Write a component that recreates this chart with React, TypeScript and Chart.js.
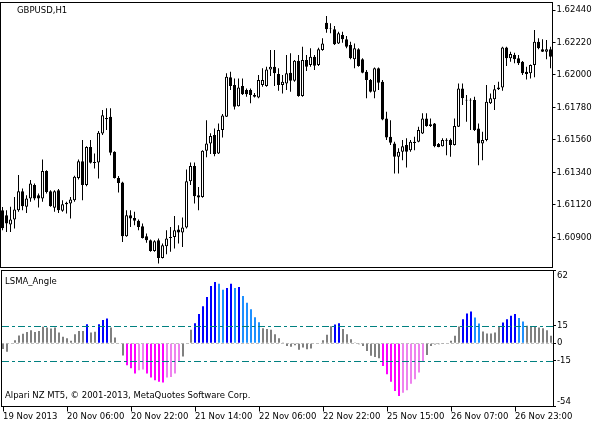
import React, { useEffect, useRef } from 'react';
import { Chart, registerables } from 'chart.js';

Chart.register(...registerables);

const FONT_FAMILY = '"DejaVu Sans", "Liberation Sans", sans-serif';

// GBPUSD H1 candles (oldest first)
const OPEN = [
  1.61084, 1.6105, 1.60987, 1.61021, 1.61084, 1.61213, 1.61107, 1.61164, 1.61254, 1.61186,
  1.61164, 1.61349, 1.61213, 1.611, 1.6122, 1.6108, 1.61125, 1.6113, 1.61152, 1.61303,
  1.61416, 1.61254, 1.61513, 1.6141, 1.61408, 1.61604, 1.61701, 1.61717, 1.6148, 1.61303,
  1.61272, 1.60908, 1.6105, 1.61032, 1.61012, 1.60976, 1.60908, 1.60881, 1.60808, 1.60881,
  1.60761, 1.6084, 1.60896, 1.60903, 1.60953, 1.60933, 1.60967, 1.61281, 1.61383, 1.61186,
  1.61174, 1.61486, 1.61536, 1.61593, 1.61469, 1.61627, 1.61717, 1.61984, 1.61932, 1.61789,
  1.61925, 1.61898, 1.61898, 1.61864, 1.61848, 1.61932, 1.61925, 1.62038, 1.62056, 1.62006,
  1.61932, 1.61943, 1.62015, 1.61961, 1.62097, 1.61857, 1.62101, 1.62067, 1.62124, 1.62067,
  1.62169, 1.62354, 1.62315, 1.62309, 1.62214, 1.62271, 1.62242, 1.62203, 1.62106, 1.62174,
  1.62106, 1.62022, 1.61966, 1.61886, 1.62045, 1.61954, 1.61706, 1.61581, 1.61536, 1.61446,
  1.6148, 1.61525, 1.61491, 1.61547, 1.61547, 1.61604, 1.61706, 1.61667, 1.61672, 1.61532,
  1.61518, 1.61555, 1.61559, 1.61525, 1.61649, 1.61909, 1.61827, 1.61833, 1.6183, 1.61638,
  1.61536, 1.61559, 1.61808, 1.61835, 1.61903, 1.61916, 1.62187, 1.62113, 1.62135, 1.62113,
  1.6209, 1.62022, 1.62011, 1.62067, 1.62225, 1.62174, 1.62158, 1.62174,
];
const HIGH = [
  1.61105, 1.61084, 1.61107, 1.61174, 1.61322, 1.61231, 1.61186, 1.61288, 1.61265, 1.61197,
  1.61428, 1.61355, 1.6122, 1.6122, 1.61227, 1.61152, 1.61141, 1.61174, 1.61317, 1.61428,
  1.61559, 1.61518, 1.61559, 1.61469, 1.6162, 1.61762, 1.61774, 1.61774, 1.61484, 1.61315,
  1.61276, 1.61084, 1.61084, 1.61073, 1.61021, 1.60994, 1.60926, 1.60886, 1.60881, 1.60892,
  1.60858, 1.60949, 1.60971, 1.61044, 1.60983, 1.61035, 1.6136, 1.61408, 1.61408, 1.61242,
  1.61491, 1.61694, 1.61606, 1.61638, 1.61672, 1.61735, 1.62011, 1.62022, 1.61977, 1.61977,
  1.61977, 1.61909, 1.61909, 1.61878, 1.62, 1.62045, 1.62056, 1.62169, 1.62169, 1.62045,
  1.62, 1.62135, 1.62147, 1.62101, 1.62135, 1.62191, 1.62135, 1.62181, 1.62135, 1.62185,
  1.62248, 1.624, 1.6235, 1.62332, 1.62293, 1.62293, 1.62264, 1.62225, 1.62214, 1.62181,
  1.62113, 1.62033, 1.61972, 1.6205, 1.6205, 1.61966, 1.61751, 1.61694, 1.61547, 1.61503,
  1.61559, 1.61572, 1.61559, 1.61581, 1.61649, 1.6174, 1.6174, 1.61706, 1.61674, 1.61539,
  1.61572, 1.61572, 1.6157, 1.61706, 1.61943, 1.61943, 1.61864, 1.61842, 1.61852, 1.61672,
  1.61615, 1.61932, 1.61875, 1.61932, 1.61954, 1.62191, 1.62191, 1.62158, 1.62151, 1.62135,
  1.62094, 1.62056, 1.62071, 1.62305, 1.62248, 1.62242, 1.62237, 1.62191,
];
const LOW = [
  1.60949, 1.60937, 1.60937, 1.6096, 1.61073, 1.61084, 1.61066, 1.61141, 1.61152, 1.61103,
  1.61141, 1.61197, 1.61107, 1.61073, 1.61066, 1.61073, 1.61062, 1.61028, 1.61141, 1.61292,
  1.61152, 1.61247, 1.61401, 1.61367, 1.61299, 1.61593, 1.61627, 1.61457, 1.61299, 1.61204,
  1.60869, 1.60905, 1.60971, 1.60983, 1.60949, 1.60892, 1.60863, 1.60803, 1.60803, 1.60723,
  1.60757, 1.60786, 1.60802, 1.60825, 1.60858, 1.60835, 1.6096, 1.61254, 1.6113, 1.61084,
  1.61168, 1.61442, 1.61464, 1.6145, 1.61464, 1.61577, 1.61715, 1.61898, 1.61767, 1.61786,
  1.61864, 1.61852, 1.61808, 1.61847, 1.61842, 1.6192, 1.6192, 1.61993, 1.61925, 1.61893,
  1.61875, 1.61898, 1.61886, 1.61954, 1.61852, 1.61852, 1.62027, 1.62056, 1.62033, 1.62061,
  1.62164, 1.62286, 1.62282, 1.62203, 1.6221, 1.62219, 1.62181, 1.62106, 1.62045, 1.62056,
  1.62011, 1.61842, 1.61881, 1.61842, 1.61898, 1.61694, 1.61559, 1.61525, 1.61333, 1.61333,
  1.61423, 1.61374, 1.6148, 1.61491, 1.61545, 1.616, 1.61649, 1.61647, 1.61511, 1.61511,
  1.61515, 1.61457, 1.61446, 1.61522, 1.61647, 1.61796, 1.61683, 1.61627, 1.6162, 1.61389,
  1.61423, 1.61552, 1.61803, 1.61762, 1.61898, 1.61893, 1.62061, 1.6209, 1.62079, 1.62067,
  1.62, 1.6197, 1.61977, 1.61984, 1.62174, 1.62155, 1.62106, 1.62045,
];
const CLOSE = [
  1.60962, 1.60994, 1.61021, 1.61089, 1.61213, 1.61111, 1.61164, 1.61265, 1.61164, 1.61164,
  1.61349, 1.61208, 1.61111, 1.61213, 1.61084, 1.61125, 1.61134, 1.61157, 1.6131, 1.61416,
  1.61254, 1.61513, 1.61405, 1.61403, 1.61608, 1.61728, 1.61708, 1.61473, 1.61303, 1.61269,
  1.60908, 1.6105, 1.61028, 1.61012, 1.60971, 1.60896, 1.60881, 1.60808, 1.60874, 1.60761,
  1.60847, 1.60892, 1.60903, 1.60949, 1.60933, 1.60967, 1.61281, 1.61383, 1.61179, 1.6117,
  1.61486, 1.61536, 1.61586, 1.61464, 1.61627, 1.61725, 1.61988, 1.61925, 1.61785, 1.61916,
  1.61869, 1.61869, 1.61864, 1.61852, 1.61966, 1.61966, 1.62038, 1.62056, 1.62011, 1.61932,
  1.61954, 1.62011, 1.61961, 1.62097, 1.61857, 1.62101, 1.62056, 1.62124, 1.62063, 1.62174,
  1.62214, 1.62309, 1.62318, 1.62208, 1.62282, 1.62242, 1.62191, 1.62113, 1.62181, 1.62061,
  1.62015, 1.61966, 1.61886, 1.62045, 1.61947, 1.61699, 1.61577, 1.61541, 1.61446, 1.6148,
  1.61518, 1.6148, 1.61547, 1.61539, 1.61627, 1.61706, 1.61654, 1.61654, 1.61518, 1.61513,
  1.61559, 1.61562, 1.61525, 1.61654, 1.61909, 1.61842, 1.61833, 1.61827, 1.61627, 1.61536,
  1.61559, 1.61819, 1.61842, 1.61903, 1.61916, 1.62187, 1.62113, 1.62142, 1.62106, 1.62079,
  1.62011, 1.62006, 1.62067, 1.62225, 1.62181, 1.62158, 1.62174, 1.62124,
];

// LSMA_Angle indicator histogram
const LSMA_ANGLE = [
  -5, -7.4, 0.3, 2.5, 6.6, 8, 9.5, 11, 9.5, 10.5,
  14, 13.4, 12.5, 13.4, 9.1, 5.4, 4.3, 2, 7.7, 10.5,
  10.5, 16.2, 9.1, 9.7, 16.2, 19.7, 21.1, 13.4, 4.8, 0.4,
  -10.5, -18.8, -21.4, -25.9, -23.1, -22.5, -25.9, -29.3, -31.6, -32.8,
  -33.5, -29.3, -28.8, -25.9, -15.3, -11.4, 0.3, 11.4, 17.1, 25,
  31.6, 39.3, 48.7, 52.1, 50.7, 45.6, 47, 50.7, 47, 47.9,
  40.2, 34.5, 29, 22.2, 17.9, 12.8, 12, 11.4, 7.7, 4.3,
  0.5, -2.3, -3.1, -1.7, -5.7, -3.7, -5.1, -4.6, -0.5, 0.3,
  2.6, 7.1, 14.5, 16, 17.1, 12, 7.7, 3.4, 0.6, -0.9,
  -2.3, -6.6, -10.8, -11.7, -12.8, -19.4, -26.5, -32.8, -40.7, -45,
  -42.2, -40.2, -34.5, -30.8, -25.1, -15.7, -10, -2.3, -1.1, -0.9,
  -0.3, 0.3, 2, 6.3, 14.2, 20.5, 25.4, 27.1, 21.9, 16.8,
  10, 8.3, 8.3, 9.1, 14, 17.7, 20.5, 23.4, 24.8, 21.4,
  18.5, 14.8, 14.2, 14.2, 13.4, 12.8, 11.1, 6.3,
];
// g = gray, b = blue (rising), d = dodger blue (falling), m = magenta (falling), v = violet (rising)
const ANGLE_COLOR_CODES =
  'gggggggggg' + 'gggggggggg' + 'gbggbbbggg' + 'gmmmvvmmmm' + 'mvvvvgggbb' +
  'bbbbddbbdb' + 'dddddggggg' + 'gggggggggg' + 'gggbbggggg' + 'gggggmmmmm' +
  'vvvvvvgggg' + 'gggggbbbdd' + 'gggggbbbbd' + 'dggggggg';
const CODE_COLORS: Record<string, string> = {
  g: '#808080', b: '#0000FF', d: '#1E90FF', m: '#FF00FF', v: '#EE82EE',
};

const PRICE_TICKS = [1.6244, 1.6222, 1.62, 1.6178, 1.6156, 1.6134, 1.6112, 1.609];
const PRICE_MIN = 1.60696;
const PRICE_MAX = 1.62491;
const ANGLE_TICKS = [62, 15, 0, -15, -54];
const ANGLE_MIN = -54;
const ANGLE_MAX = 62;
const LEVELS = [15, -15];
const X_TICK_LABELS = [
  '19 Nov 2013', '20 Nov 06:00', '20 Nov 22:00', '21 Nov 14:00', '22 Nov 06:00',
  '22 Nov 22:00', '25 Nov 15:00', '26 Nov 07:00', '26 Nov 23:00',
];
const TICK_EVERY = 16;

const framePlugin = {
  id: 'frame',
  afterDraw(chart: any) {
    const { ctx, chartArea: a } = chart;
    ctx.save();
    ctx.strokeStyle = '#000';
    ctx.lineWidth = 1;
    ctx.setLineDash([]);
    ctx.strokeRect(
      Math.floor(a.left) + 0.5,
      Math.floor(a.top) + 0.5,
      Math.round(a.right - a.left),
      Math.round(a.bottom - a.top)
    );
    ctx.restore();
  },
};

const levelsPlugin = {
  id: 'levels',
  beforeDatasetsDraw(chart: any) {
    const { ctx, chartArea: a, scales } = chart;
    const y = Math.round(scales.y.getPixelForValue(0)) + 0.5;
    ctx.save();
    ctx.strokeStyle = '#C0C0C0';
    ctx.lineWidth = 1;
    ctx.setLineDash([3, 2]);
    ctx.beginPath();
    ctx.moveTo(a.left, y);
    ctx.lineTo(a.right, y);
    ctx.stroke();
    ctx.restore();
  },
  afterDatasetsDraw(chart: any) {
    const { ctx, chartArea: a, scales } = chart;
    ctx.save();
    ctx.strokeStyle = '#008080';
    ctx.lineWidth = 1;
    ctx.setLineDash([7, 3, 3, 3]);
    LEVELS.forEach((lv) => {
      const y = Math.round(scales.y.getPixelForValue(lv)) + 0.5;
      ctx.beginPath();
      ctx.moveTo(a.left + 1, y);
      ctx.lineTo(a.right, y);
      ctx.stroke();
    });
    ctx.restore();
  },
};

const tickFont = { family: FONT_FAMILY, size: 8.5 };

export default function App() {
  const mainRef = useRef<HTMLCanvasElement>(null);
  const subRef = useRef<HTMLCanvasElement>(null);

  useEffect(() => {
    const labels = OPEN.map((_, i) => i);
    const bodies = OPEN.map((o, i) => [Math.min(o, CLOSE[i]), Math.max(o, CLOSE[i])]);
    const wicks = LOW.map((l, i) => [l, HIGH[i]]);
    const bodyFill = OPEN.map((o, i) => (CLOSE[i] >= o ? '#FFFFFF' : '#000000'));

    const main = new Chart(mainRef.current as HTMLCanvasElement, {
      type: 'bar',
      data: {
        labels,
        datasets: [
          {
            data: bodies as any,
            backgroundColor: bodyFill,
            borderColor: '#000000',
            borderWidth: 1,
            borderSkipped: false,
            barThickness: 3,
            inflateAmount: 0,
            grouped: false,
          } as any,
          {
            data: wicks as any,
            backgroundColor: '#000000',
            borderWidth: 0,
            barThickness: 1,
            inflateAmount: 0,
            grouped: false,
          } as any,
        ],
      },
      options: {
        animation: false,
        responsive: false,
        events: [],
        layout: { padding: { left: 0.5, top: 2.5, bottom: 2.5, right: 0 } },
        plugins: { legend: { display: false }, tooltip: { enabled: false } },
        scales: {
          x: { display: false, offset: true },
          y: {
            position: 'right',
            min: PRICE_MIN,
            max: PRICE_MAX,
            afterBuildTicks: (s: any) => {
              s.ticks = PRICE_TICKS.map((v) => ({ value: v }));
            },
            afterFit: (s: any) => {
              s.width = 48.5;
              s.paddingTop = 0;
              s.paddingBottom = 0;
            },
            ticks: {
              font: tickFont,
              color: '#000',
              padding: 1,
              callback: (v: any) => Number(v).toFixed(5),
            },
            grid: { drawOnChartArea: false, drawTicks: true, tickLength: 3, color: '#000' },
            border: { display: false },
          },
        },
      } as any,
      plugins: [framePlugin],
    });

    const sub = new Chart(subRef.current as HTMLCanvasElement, {
      type: 'bar',
      data: {
        labels,
        datasets: [
          {
            data: LSMA_ANGLE,
            backgroundColor: ANGLE_COLOR_CODES.split('').map((c) => CODE_COLORS[c]),
            borderWidth: 0,
            barThickness: 2,
            inflateAmount: 0,
            grouped: false,
          } as any,
        ],
      },
      options: {
        animation: false,
        responsive: false,
        events: [],
        layout: { padding: { left: 1, top: 12.5, bottom: 0, right: 0 } },
        plugins: { legend: { display: false }, tooltip: { enabled: false } },
        scales: {
          x: {
            offset: true,
            afterBuildTicks: (s: any) => {
              s.ticks = s.ticks.filter((t: any) => t.value % TICK_EVERY === 0);
            },
            afterFit: (s: any) => {
              s.height = 17.5;
              s.paddingLeft = 0;
              s.paddingRight = 0;
            },
            ticks: {
              autoSkip: false,
              maxRotation: 0,
              minRotation: 0,
              align: 'start',
              padding: 0,
              font: tickFont,
              color: '#000',
              callback: (v: any) => X_TICK_LABELS[Math.round(Number(v) / TICK_EVERY)],
            },
            grid: { offset: false, drawOnChartArea: false, drawTicks: true, tickLength: 5, color: '#000' },
            border: { display: false },
          },
          y: {
            position: 'right',
            min: ANGLE_MIN,
            max: ANGLE_MAX,
            afterBuildTicks: (s: any) => {
              s.ticks = ANGLE_TICKS.map((v) => ({ value: v }));
            },
            afterFit: (s: any) => {
              s.width = 48;
              s.paddingTop = 0;
              s.paddingBottom = 0;
            },
            ticks: {
              font: tickFont,
              color: '#000',
              padding: 1,
              // scale extremes are printed just inside the window, as MetaTrader does
              callback: (v: any) => {
                const n = Number(v);
                if (n === ANGLE_MAX) return ['', String(n)];
                if (n === ANGLE_MIN) return [String(n), ''];
                return String(n);
              },
            },
            grid: { drawOnChartArea: false, drawTicks: true, tickLength: 3, color: '#000' },
            border: { display: false },
          },
        },
      } as any,
      plugins: [levelsPlugin, framePlugin],
    });

    return () => {
      main.destroy();
      sub.destroy();
    };
  }, []);

  const textStyle: React.CSSProperties = {
    position: 'absolute',
    fontFamily: FONT_FAMILY,
    fontSize: '8.5px',
    lineHeight: '10px',
    color: '#000',
    whiteSpace: 'nowrap',
  };

  return (
    <div
      style={{
        position: 'fixed',
        left: 0,
        top: 0,
        width: 601,
        height: 424,
        background: '#fff',
        overflow: 'hidden',
      }}
    >
      <canvas ref={mainRef} width={601} height={270} style={{ position: 'absolute', left: 0, top: 0, display: 'block' }} />
      <canvas ref={subRef} width={601} height={166} style={{ position: 'absolute', left: 0, top: 258, display: 'block' }} />
      <div style={{ ...textStyle, left: 17, top: 5 }}>GBPUSD,H1</div>
      <div style={{ ...textStyle, left: 5, top: 276 }}>LSMA_Angle</div>
      <div style={{ ...textStyle, left: 5, top: 390 }}>Alpari NZ MT5, © 2001-2013, MetaQuotes Software Corp.</div>
    </div>
  );
}
